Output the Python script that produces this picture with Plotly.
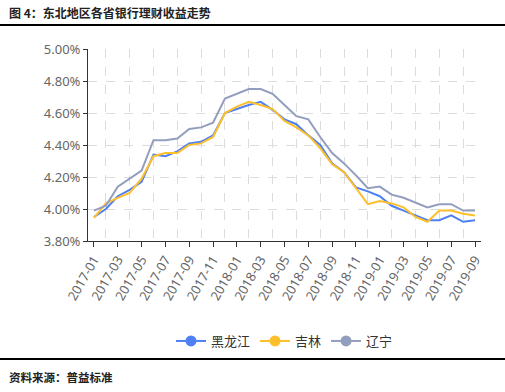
import plotly.graph_objects as go

months = ["2017-01","2017-02","2017-03","2017-04","2017-05","2017-06","2017-07","2017-08","2017-09","2017-10","2017-11","2017-12",
          "2018-01","2018-02","2018-03","2018-04","2018-05","2018-06","2018-07","2018-08","2018-09","2018-10","2018-11","2018-12",
          "2019-01","2019-02","2019-03","2019-04","2019-05","2019-06","2019-07","2019-08","2019-09"]

heilongjiang = [3.95,4.00,4.08,4.12,4.17,4.34,4.33,4.36,4.41,4.42,4.46,4.60,
                4.625,4.65,4.67,4.62,4.56,4.53,4.46,4.40,4.285,4.23,4.135,4.11,
                4.08,4.02,3.99,3.96,3.93,3.93,3.96,3.92,3.93]
jilin = [3.945,4.035,4.07,4.10,4.19,4.33,4.35,4.35,4.40,4.41,4.45,4.60,
         4.64,4.67,4.65,4.625,4.55,4.51,4.46,4.38,4.28,4.23,4.13,4.03,
         4.05,4.035,4.01,3.95,3.92,3.99,3.99,3.97,3.96]
liaoning = [3.99,4.02,4.14,4.19,4.24,4.43,4.43,4.44,4.50,4.51,4.54,4.69,
            4.72,4.75,4.75,4.72,4.65,4.58,4.56,4.45,4.35,4.285,4.21,4.13,
            4.14,4.09,4.07,4.04,4.01,4.03,4.03,3.99,3.99]

names = ["黑龙江", "吉林", "辽宁"]
colors = ["#4E7FF5", "#FDBF2A", "#939EBE"]
series = [heilongjiang, jilin, liaoning]

idx = list(range(len(months)))

fig = go.Figure()
for name, vals, c in zip(names, series, colors):
    fig.add_trace(go.Scatter(x=idx, y=vals, mode="lines", name=name,
                             line=dict(color=c, width=2), showlegend=False,
                             hovertemplate="%{y:.2f}%<extra>" + name + "</extra>"))
for name, c in zip(names, colors):
    fig.add_trace(go.Scatter(x=[None], y=[None], mode="lines+markers", name=name,
                             line=dict(color=c, width=2), opacity=1,
                             marker=dict(color=c, size=11, symbol="circle")))

L, R, T, B = 88, 24, 49, 151
W, H = 505, 392
pw = W - L - R
ph = H - T - B

fig.update_layout(
    width=W, height=H,
    margin=dict(l=L, r=R, t=T, b=B, autoexpand=False),
    paper_bgcolor="white", plot_bgcolor="white",
    font=dict(family="Noto Sans CJK SC, sans-serif", color="#333"),
    legend=dict(orientation="h", x=0.5, xanchor="center", y=(ph - (341 - T)) / ph, yanchor="middle",
                font=dict(size=13, color="#333"), itemwidth=30, tracegroupgap=0),
    xaxis=dict(
        range=[-0.5, len(months) - 0.5],
        tickmode="array", tickvals=idx[::2], ticktext=months[::2],
        tickangle=-60, tickfont=dict(size=13, color="#666", family="Noto Sans, sans-serif"),
        showline=True, linecolor="#333", linewidth=1,
        ticks="outside", ticklen=5, tickcolor="#333",
        showgrid=False, zeroline=False,
        minor=dict(tickmode="array", tickvals=idx[1::2], showgrid=True,
                   gridcolor="#dcdcdc", griddash="dash", gridwidth=1, ticks=""),
    ),
    yaxis=dict(
        range=[3.8, 5.0], dtick=0.2, tick0=3.8, tickformat=".2f", ticksuffix="%",
        tickfont=dict(size=13, color="#666", family="Noto Sans, sans-serif"),
        showline=True, linecolor="#333", linewidth=1,
        ticks="outside", ticklen=4, tickcolor="#333",
        showgrid=True, gridcolor="#dcdcdc", griddash="dash", gridwidth=1, zeroline=False,
    ),
)

fig.add_annotation(text="<b>图 4：东北地区各省银行理财收益走势</b>", xref="paper", yref="paper",
                   x=-(L - 7) / pw, y=1 + (T - 12) / ph, xanchor="left", yanchor="middle",
                   showarrow=False, font=dict(size=12, color="#222"))
fig.add_annotation(text="<b>资料来源：普益标准</b>", xref="paper", yref="paper",
                   x=-(L - 7) / pw, y=-(377 - T - ph) / ph, xanchor="left", yanchor="middle",
                   showarrow=False, font=dict(size=11.5, color="#222"))
for yy in (25, 359):
    fig.add_shape(type="line", xref="paper", yref="paper",
                  x0=-L / pw, x1=(W - L) / pw,
                  y0=(T + ph - yy) / ph, y1=(T + ph - yy) / ph,
                  line=dict(color="black", width=2))

fig.write_html("out.html", config={"displayModeBar": False},
               post_script="document.body.style.margin='0';document.body.style.padding='0';")
